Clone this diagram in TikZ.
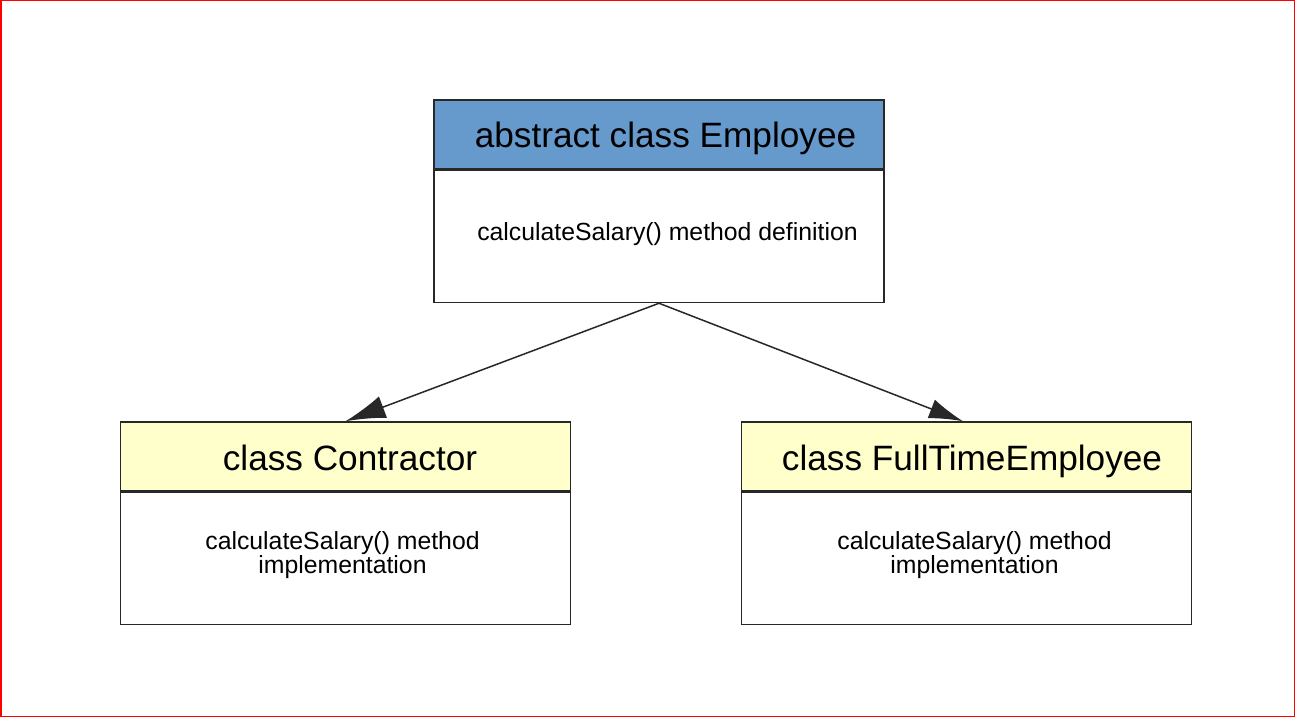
\documentclass[tikz,border=0pt]{standalone}
\usepackage{fontspec}
\setmainfont{Liberation Sans}
\usetikzlibrary{arrows.meta}
\definecolor{hdrblue}{RGB}{102,153,204}
\definecolor{hdryellow}{RGB}{255,255,204}
\definecolor{edge}{RGB}{40,40,40}
\begin{document}
\begin{tikzpicture}[x=1pt,y=-1pt,
  box/.style={draw=edge,line width=1.5pt,rectangle,inner sep=0pt,minimum width=450pt},
  hdr/.style={box,minimum height=69pt},
  bdy/.style={box,minimum height=132pt,fill=white},
  htext/.style={anchor=base,inner sep=0pt,font=\fontsize{35.2}{40}\selectfont},
  btext/.style={anchor=base,inner sep=0pt,align=center,font=\fontsize{24.8}{24}\selectfont},
  conn/.style={draw=edge,line width=1.5pt}]
\fill[white] (0,0) rectangle (1295,717);
\draw[red,line width=1.5pt] (0.75,0.75) rectangle (1294.25,716.25);
% Employee
\node[hdr,fill=hdrblue] (emph) at (659,134.5) {};
\node[bdy,anchor=north] (empb) at (emph.south) {};
\node[htext] (empt) at (665.5,147) {abstract class Employee};
\node[btext] (empm) at (667.5,240) {calculateSalary() method definition};
% Contractor
\node[hdr,fill=hdryellow] (conh) at (345.5,456.5) {};
\node[bdy,anchor=north] (conb) at (conh.south) {};
\node[htext] (cont) at (350,470) {class Contractor};
\node[btext] (conm) at (342.5,573) {calculateSalary() method\\implementation};
% FullTimeEmployee
\node[hdr,fill=hdryellow] (fteh) at (966.5,456.5) {};
\node[bdy,anchor=north] (fteb) at (fteh.south) {};
\node[htext] (ftet) at (972,470) {class FullTimeEmployee};
\node[btext] (ftem) at (974.5,573) {calculateSalary() method\\implementation};
% connectors
\draw[conn,-{Latex[length=40pt,width=23pt]}] (empb.south) -- (conh.north);
\draw[conn,-{Latex[length=34pt,width=20pt]}] (empb.south) -- ([xshift=-3.5pt]fteh.north);
\end{tikzpicture}
\end{document}
